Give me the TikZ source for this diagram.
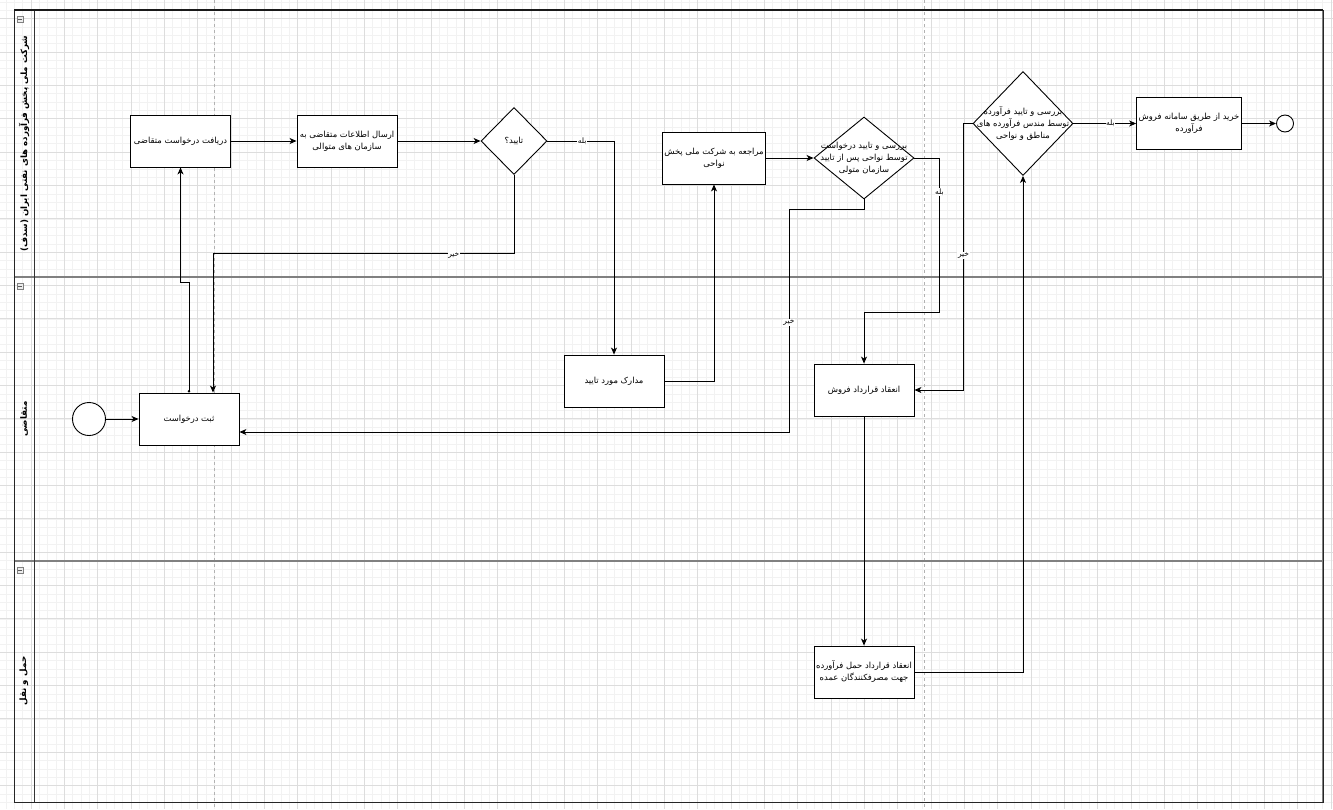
\documentclass[tikz,border=0pt]{standalone}
\usepackage{fontspec}
\usetikzlibrary{shapes.geometric,arrows.meta}
\TeXXeTstate=1
\newfontfamily\fa[Script=Arabic]{DejaVu Sans}
\definecolor{gminor}{HTML}{F2F2F2}
\definecolor{gmajor}{HTML}{DDDDDD}
\definecolor{lanegray}{HTML}{808080}
\tikzset{
  box/.style={draw, line width=0.9pt, fill=white, minimum width=100pt, minimum height=52pt,
    align=center, inner sep=2pt, font=\fa\fontsize{8.4}{12}\selectfont},
  dia/.style={draw, diamond, line width=0.9pt, fill=white, inner sep=0pt},
  dlbl/.style={align=center, inner sep=0pt, font=\fa\fontsize{8.4}{12}\selectfont},
  conn/.style={line width=0.9pt, -{Stealth[length=7pt,width=6pt,inset=2pt]}},
  elabel/.style={fill=white, inner sep=0.6pt, font=\fa\fontsize{7.5}{9}\selectfont},
  lanelbl/.style={rotate=90, font=\fa\bfseries\fontsize{8.7}{10}\selectfont, inner sep=1pt},
  icon/.style={draw=gray, fill=gray!15, line width=0.4pt, minimum size=6pt, inner sep=0pt},
}
\begin{document}
\begin{tikzpicture}[x=1pt,y=-1pt]
\useasboundingbox (0,0) rectangle (1333,809);
\fill[white] (0,0) rectangle (1333,809);
% grid
\foreach \i in {0,...,160} { \draw[gminor, line width=0.4pt] ({-2.33+\i*8.3333},0) -- ({-2.33+\i*8.3333},809); }
\foreach \i in {0,...,97} { \draw[gminor, line width=0.4pt] (0,{2.03+\i*8.3333}) -- (1333,{2.03+\i*8.3333}); }
\foreach \i in {0,...,40} { \draw[gmajor, line width=0.5pt] ({-2.33+\i*33.333},0) -- ({-2.33+\i*33.333},809); }
\foreach \i in {0,...,24} { \draw[gmajor, line width=0.5pt] (0,{18.7+\i*33.333}) -- (1333,{18.7+\i*33.333}); }
% page breaks
\draw[gray!60, dashed, line width=0.5pt] (214,0) -- (214,809);
\draw[gray!60, dashed, line width=0.5pt] (924,0) -- (924,809);
% pool and lanes
\draw[lanegray, line width=1.5pt] (14,277) -- (1323,277);
\draw[lanegray, line width=1.5pt] (14,561) -- (1323,561);
\draw[black!80, line width=0.8pt] (34,10) -- (34,802);
\draw[lanegray, line width=1.2pt] (1323,10) -- (1323,802);
\draw[black!85, line width=1pt] (14,10) rectangle (1323,802);
\draw[black!90, line width=1.2pt] (14,10) -- (1323,10);
\node[lanelbl] (lane1) at (24,143.5) {\beginR شرکت ملی پخش فرآورده های نفتی ایران (سدف)\endR};
\node[lanelbl] (lane2) at (24,419) {\beginR متقاضی\endR};
\node[lanelbl] (lane3) at (24,681) {\beginR حمل و نقل\endR};
\node[icon] (ic1) at (20,19) {}; \draw[gray!70!black, line width=0.5pt] ([xshift=-1.8pt]ic1.center) -- ([xshift=1.8pt]ic1.center);
\node[icon] (ic2) at (20,286) {}; \draw[gray!70!black, line width=0.5pt] ([xshift=-1.8pt]ic2.center) -- ([xshift=1.8pt]ic2.center);
\node[icon] (ic3) at (20,570) {}; \draw[gray!70!black, line width=0.5pt] ([xshift=-1.8pt]ic3.center) -- ([xshift=1.8pt]ic3.center);
% nodes
\node[box] (daryaft) at (180.5,141) {\beginR دریافت درخواست متقاضی\endR};
\node[box] (ersal) at (347,141) {\beginR ارسال اطلاعات متقاضی به\endR\\\beginR سازمان های متوالی\endR};
\node[dia, minimum width=66pt, minimum height=67pt, label={[dlbl]center:\beginR تایید؟\endR}] (tayid) at (514,141) {};
\node[box] (moraje) at (714,158) {\beginR مراجعه به شرکت ملی پخش\endR\\\beginR نواحی\endR};
\node[dia, minimum width=100pt, minimum height=82pt,
  label={[dlbl]center:\beginR بررسی و تایید درخواست\endR\\\beginR توسط نواحی پس از تایید\endR\\\beginR سازمان متولی\endR}] (barrasi1) at (864,158) {};
\node[dia, minimum width=100pt, minimum height=104pt,
  label={[dlbl]center:\beginR بررسی و تایید فرآورده\endR\\\beginR توسط مندس فرآورده های\endR\\\beginR مناطق و نواحی\endR}] (barrasi2) at (1023,123.5) {};
\node[box] (kharid) at (1189,123.5) {\beginR خرید از طریق سامانه فروش\endR\\\beginR فرآورده\endR};
\node[draw, circle, line width=0.9pt, fill=white, minimum size=17pt, inner sep=0pt] (endev) at (1285,123.5) {};
\node[draw, circle, line width=0.9pt, fill=white, minimum size=33pt, inner sep=0pt] (startev) at (89,419) {};
\node[box] (sabt) at (189,419) {\beginR ثبت درخواست\endR};
\node[box] (madarek) at (614,381) {\beginR مدارک مورد تایید\endR};
\node[box] (foroush) at (864,390) {\beginR انعقاد قرارداد فروش\endR};
\node[box] (haml) at (864,672) {\beginR انعقاد قرارداد حمل فرآورده\endR\\\beginR جهت مصرفکنندگان عمده\endR};
% connectors
\draw[conn] (startev) -- (sabt);
\draw[line width=0.9pt, {Circle[length=2.5pt]}-{Stealth[length=7pt,width=6pt,inset=2pt]}]
  (sabt.north) -- (189,282) -- (180.5,282) -- (daryaft.south);
\draw[conn] (daryaft) -- (ersal);
\draw[conn] (ersal) -- (tayid);
\draw[conn] (tayid.east) -| node[elabel, pos=0.26] {\beginR بله\endR} (madarek.north);
\draw[conn] (tayid.south) -- ++(0,78) -| node[elabel, pos=0.1, yshift=-2pt] {\beginR خیر\endR} ([xshift=24pt]sabt.north);
\draw[conn] (madarek.east) -| (moraje.south);
\draw[conn] (moraje) -- (barrasi1);
\draw[conn] (barrasi1.east) -- ++(25,0) -- node[elabel, pos=0.22] {\beginR بله\endR} ++(0,154) -| (foroush.north);
\draw[conn] (barrasi1.south) -- ++(0,10) -- ++(-75,0) |- node[elabel, pos=0.253] {\beginR خیر\endR} ([yshift=-13pt]sabt.east);
\draw[conn] (barrasi2.west) -- ++(-9,0) |- node[elabel, pos=0.248] {\beginR خیر\endR} (foroush.east);
\draw[conn] (barrasi2.east) -- node[elabel, pos=0.59] {\beginR بله\endR} (kharid.west);
\draw[conn] (kharid) -- (endev);
\draw[conn] (foroush) -- (haml);
\draw[conn] (haml.east) -| (barrasi2.south);
\end{tikzpicture}
\end{document}
